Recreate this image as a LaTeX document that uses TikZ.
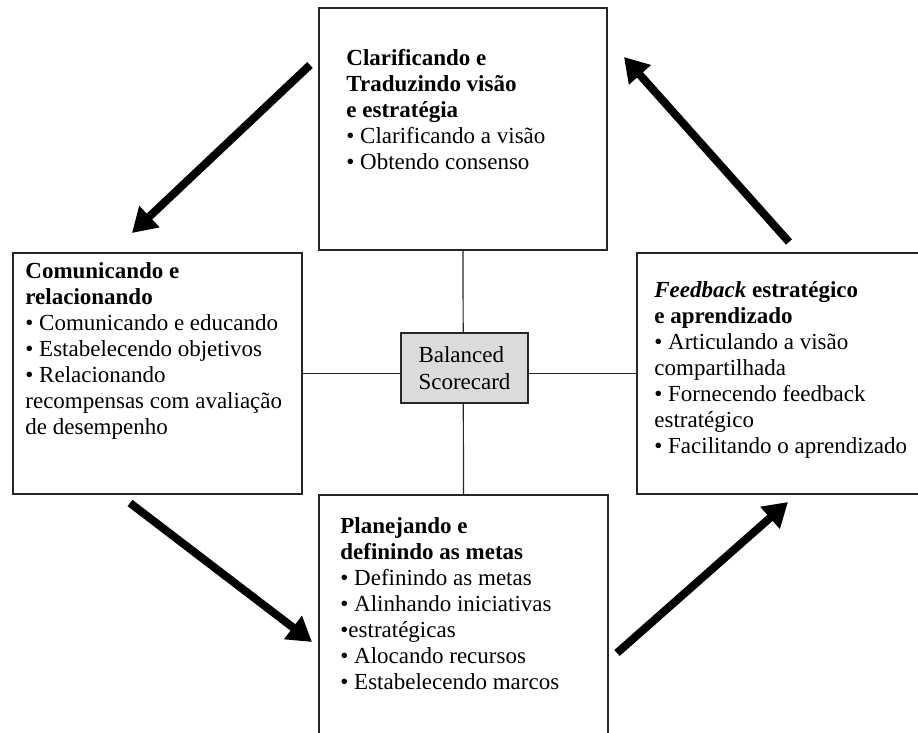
\documentclass[tikz,border=0pt]{standalone}
\usepackage{fontspec}
\setmainfont{Liberation Serif}
\usetikzlibrary{arrows.meta}
\tikzset{
  quad/.style={draw=black!85,line width=0.6pt,rectangle,inner sep=0pt},
  txt/.style={anchor=north west,align=left,inner sep=0pt,font=\fontsize{11.5}{13}\selectfont},
  tie/.style={black!85,line width=0.6pt},
  fat/.style={line width=4pt,-{Triangle[length=12pt,width=14pt]}}
}

\begin{document}
\begin{tikzpicture}[x=0.5pt,y=-0.5pt]
\useasboundingbox (0,0) rectangle (918,733);
\node[quad,minimum width=144pt,minimum height=121pt] (clar) at (463,129) {};
\node[quad,minimum width=144.5pt,minimum height=120.5pt] (comu) at (157.5,373.5) {};
\node[quad,minimum width=150pt,minimum height=120.5pt] (feed) at (787,373.5) {};
\node[quad,minimum width=144.5pt,minimum height=125pt] (plan) at (463.5,620) {};

\node[txt] (clarT) at (346,49) {\textbf{Clarificando e}\\\textbf{Traduzindo visão}\\\textbf{e estratégia}\\%
  • Clarificando a visão\\• Obtendo consenso};
\node[txt] (comuT) at (25,262) {\textbf{Comunicando e}\\\textbf{relacionando}\\%
  • Comunicando e educando\\• Estabelecendo objetivos\\• Relacionando\\recompensas com avaliação\\de desempenho};
\node[txt] (feedT) at (654,281) {\textbf{\textit{Feedback} estratégico}\\\textbf{e aprendizado}\\%
  • Articulando a visão\\compartilhada\\• Fornecendo feedback\\estratégico\\• Facilitando o aprendizado};
\node[txt] (planT) at (340,517) {\textbf{Planejando e}\\\textbf{definindo as metas}\\%
  • Definindo as metas\\• Alinhando iniciativas\\•estratégicas\\• Alocando recursos\\• Estabelecendo marcos};

\draw[tie] (comu.east) -- (feed.west);
\draw[tie] (clar.south) -- (plan.north);
\node[quad,fill=black!14,minimum width=63.5pt,minimum height=35pt,align=left,
  font=\fontsize{11.5}{13.5}\selectfont] (bsc) at (464.5,368) {Balanced\\Scorecard};

\coordinate (a1s) at (310,65);
\coordinate (a1e) at (132,233);
\coordinate (a2s) at (130,503);
\coordinate (a2e) at (312,642);
\coordinate (a3s) at (617,653);
\coordinate (a3e) at (788,502);
\coordinate (a4s) at (789,242);
\coordinate (a4e) at (624,57);
\draw[fat] (a1s) -- (a1e);
\draw[fat] (a2s) -- (a2e);
\draw[fat] (a3s) -- (a3e);
\draw[fat] (a4s) -- (a4e);
\end{tikzpicture}
\end{document}
